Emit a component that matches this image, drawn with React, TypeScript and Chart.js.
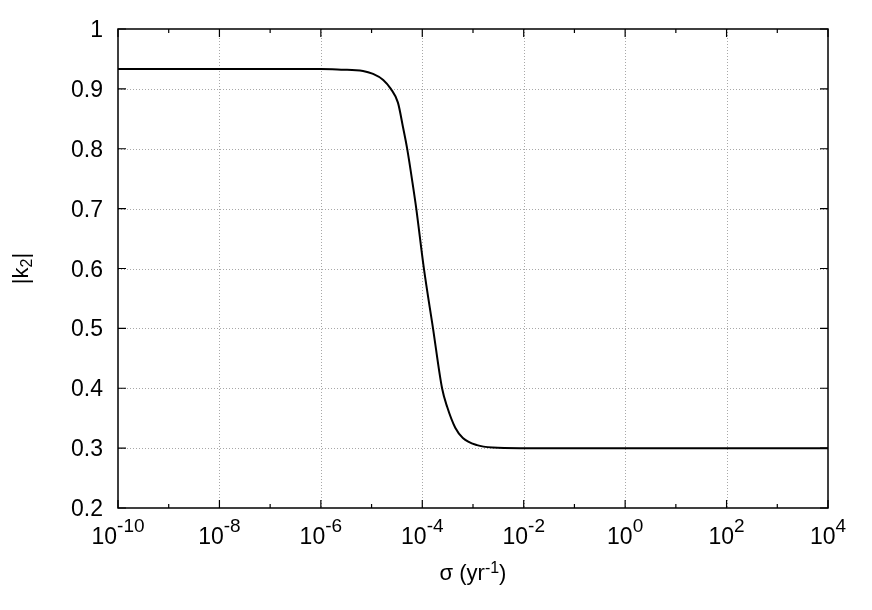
import React, { useEffect, useRef } from "react";
import { Chart, registerables } from "chart.js";

Chart.register(...registerables);

const sigmaExponent = [-10, -6, -5.6, -5.17, -4.97, -4.77, -4.62, -4.48, -4.38, -4.3, -4.18, -4.12, -3.97, -3.79, -3.61, -3.51, -3.35, -3.2, -2.92, -2.61, -2.07, 4];
const k2Abs = [0.933, 0.933, 0.932, 0.93, 0.925, 0.915, 0.9, 0.877, 0.836, 0.801, 0.736, 0.701, 0.601, 0.501, 0.4, 0.369, 0.334, 0.317, 0.305, 0.301, 0.3, 0.3];

const xTickExponents = [-10, -9, -8, -7, -6, -5, -4, -3, -2, -1, 0, 1, 2, 3, 4];
const xLabelExponents = [-10, -8, -6, -4, -2, 0, 2, 4];
const xGridExponents = [-8, -6, -4, -2, 0, 2];
const yTickValues = [0.2, 0.3, 0.4, 0.5, 0.6, 0.7, 0.8, 0.9, 1];
const yTickLabels = ["0.2", "0.3", "0.4", "0.5", "0.6", "0.7", "0.8", "0.9", "1"];
const yGridValues = [0.3, 0.4, 0.5, 0.6, 0.7, 0.8, 0.9];

const FONT = "'Liberation Sans', Arial, Helvetica, sans-serif";

const gnuplotFrame = {
  id: "gnuplotFrame",
  beforeDatasetsDraw(chart: any) {
    const { ctx, chartArea: a, scales } = chart;
    const x = scales.x, y = scales.y;
    ctx.save();
    ctx.strokeStyle = "#a8a8a8";
    ctx.lineWidth = 1;
    ctx.setLineDash([1, 2]);
    for (const e of xGridExponents) {
      const px = Math.round(x.getPixelForValue(Math.pow(10, e))) + 0.5;
      ctx.beginPath();
      ctx.moveTo(px, a.top);
      ctx.lineTo(px, a.bottom);
      ctx.stroke();
    }
    for (const v of yGridValues) {
      const py = Math.round(y.getPixelForValue(v)) + 0.5;
      ctx.beginPath();
      ctx.moveTo(a.left, py);
      ctx.lineTo(a.right, py);
      ctx.stroke();
    }
    ctx.restore();
  },
  afterDatasetsDraw(chart: any) {
    const { ctx, chartArea: a, scales } = chart;
    const x = scales.x, y = scales.y;
    ctx.save();
    ctx.strokeStyle = "#000";
    ctx.fillStyle = "#000";
    ctx.lineWidth = 1.5;
    ctx.setLineDash([]);
    ctx.strokeRect(a.left, a.top, a.right - a.left, a.bottom - a.top);

    // x ticks (inward, mirrored)
    ctx.lineWidth = 1.2;
    for (const e of xTickExponents) {
      const px = x.getPixelForValue(Math.pow(10, e));
      const len = e % 2 === 0 ? 8 : 4;
      ctx.beginPath();
      ctx.moveTo(px, a.bottom);
      ctx.lineTo(px, a.bottom - len);
      ctx.moveTo(px, a.top);
      ctx.lineTo(px, a.top + len);
      ctx.stroke();
    }
    // y ticks
    for (const v of yTickValues) {
      const py = y.getPixelForValue(v);
      ctx.beginPath();
      ctx.moveTo(a.left, py);
      ctx.lineTo(a.left + 8, py);
      ctx.moveTo(a.right, py);
      ctx.lineTo(a.right - 8, py);
      ctx.stroke();
    }

    // y tick labels
    ctx.font = `23px ${FONT}`;
    ctx.textAlign = "right";
    ctx.textBaseline = "alphabetic";
    yTickValues.forEach((v, i) => {
      const py = y.getPixelForValue(v);
      ctx.fillText(yTickLabels[i], a.left - 15, py + 8);
    });

    // x tick labels 10^e
    ctx.textAlign = "left";
    const base = a.bottom + 36;
    for (const e of xLabelExponents) {
      const px = x.getPixelForValue(Math.pow(10, e));
      ctx.font = `23px ${FONT}`;
      const w1 = ctx.measureText("10").width;
      ctx.font = `19px ${FONT}`;
      const sup = String(e);
      const w2 = ctx.measureText(sup).width;
      const start = px - (w1 + w2) / 2;
      ctx.font = `23px ${FONT}`;
      ctx.fillText("10", start, base);
      ctx.font = `19px ${FONT}`;
      ctx.fillText(sup, start + w1, base - 12);
    }

    // x title: σ (yr^-1)
    {
      const cx = (a.left + a.right) / 2;
      const by = 580;
      ctx.font = `22px ${FONT}`;
      const t1 = "σ (yr";
      const w1 = ctx.measureText(t1).width;
      const t3 = ")";
      const w3 = ctx.measureText(t3).width;
      ctx.font = `16px ${FONT}`;
      const t2 = "-1";
      const w2 = ctx.measureText(t2).width;
      let sx = cx - (w1 + w2 + w3) / 2;
      ctx.font = `22px ${FONT}`;
      ctx.fillText(t1, sx, by);
      sx += w1;
      ctx.font = `16px ${FONT}`;
      ctx.fillText(t2, sx, by - 7);
      sx += w2;
      ctx.font = `22px ${FONT}`;
      ctx.fillText(t3, sx, by);
    }

    // y title: |k_2|
    {
      const cy = (a.top + a.bottom) / 2;
      ctx.translate(28, cy);
      ctx.rotate(-Math.PI / 2);
      ctx.font = `22px ${FONT}`;
      const t1 = "|k";
      const w1 = ctx.measureText(t1).width;
      const t3 = "|";
      const w3 = ctx.measureText(t3).width;
      ctx.font = `16px ${FONT}`;
      const t2 = "2";
      const w2 = ctx.measureText(t2).width;
      let sx = -(w1 + w2 + w3) / 2;
      ctx.font = `22px ${FONT}`;
      ctx.fillText(t1, sx, 0);
      sx += w1;
      ctx.font = `16px ${FONT}`;
      ctx.fillText(t2, sx, 4);
      sx += w2;
      ctx.font = `22px ${FONT}`;
      ctx.fillText(t3, sx, 0);
    }
    ctx.restore();
  },
};

export default function App() {
  const canvasRef = useRef<HTMLCanvasElement | null>(null);

  useEffect(() => {
    const canvas = canvasRef.current;
    if (!canvas) return;
    const points = sigmaExponent.map((e, i) => ({ x: Math.pow(10, e), y: k2Abs[i] }));
    const chart = new Chart(canvas, {
      type: "line",
      data: {
        datasets: [
          {
            label: "|k2|",
            data: points,
            borderColor: "#000",
            borderWidth: 2,
            pointRadius: 0,
            fill: false,
            cubicInterpolationMode: "monotone",
          },
        ],
      },
      options: {
        animation: false,
        responsive: false,
        devicePixelRatio: 1,
        layout: { padding: { top: 29, right: 44, left: 0, bottom: 0 } },
        plugins: { legend: { display: false }, tooltip: { enabled: false }, title: { display: false } },
        scales: {
          x: {
            type: "logarithmic",
            min: 1e-10,
            max: 1e4,
            grid: { display: false },
            border: { display: false },
            ticks: { display: false },
            afterFit(scale: any) {
              scale.height = 102;
            },
          },
          y: {
            type: "linear",
            min: 0.2,
            max: 1,
            grid: { display: false },
            border: { display: false },
            ticks: { display: false },
            afterFit(scale: any) {
              scale.width = 118;
            },
          },
        },
      },
      plugins: [gnuplotFrame],
    } as any);
    return () => chart.destroy();
  }, []);

  return (
    <div style={{ position: "fixed", left: 0, top: 0, width: 872, height: 610, background: "#fff" }}>
      <canvas ref={canvasRef} width={872} height={610} style={{ display: "block" }} />
    </div>
  );
}
